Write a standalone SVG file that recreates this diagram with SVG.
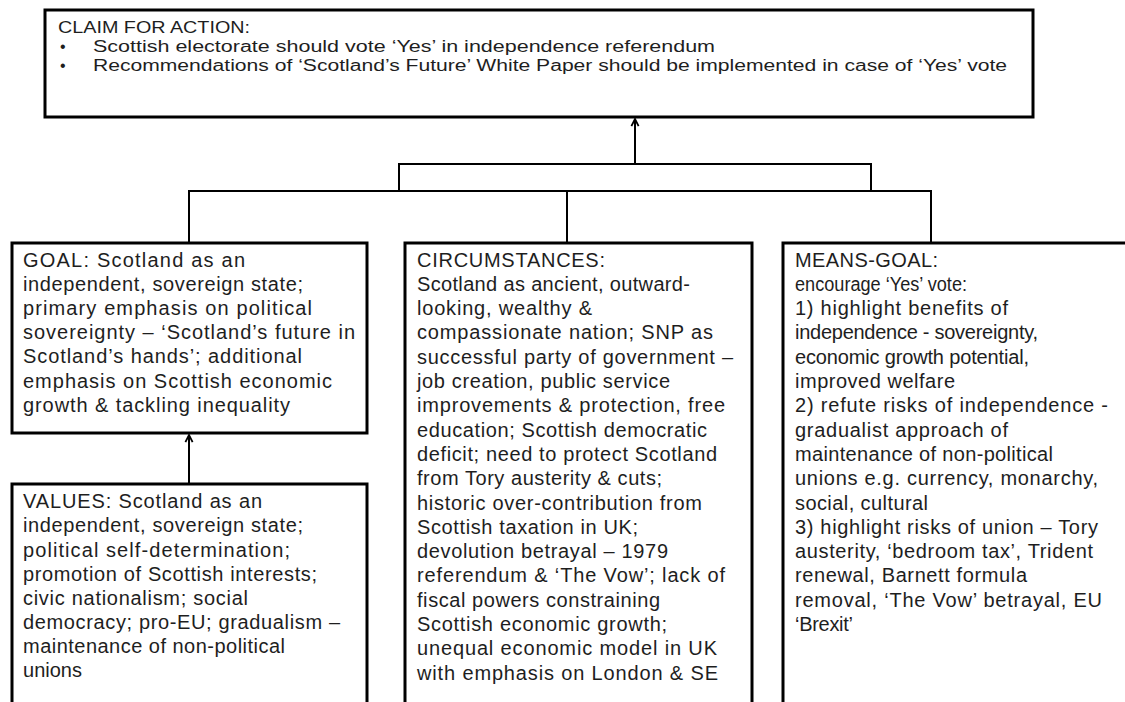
<svg xmlns="http://www.w3.org/2000/svg" width="1125" height="702" viewBox="0 0 1125 702">
<defs>
<style>
.box{fill:#fff;stroke:#000;stroke-width:3}
.con{fill:none;stroke:#000;stroke-width:2}
text{font-family:"Liberation Sans",Arial,sans-serif;font-size:20px;fill:#1e1e1e}
.top text{font-size:16px}
</style>
<marker id="arr" viewBox="0 0 10 10" refX="9" refY="5" markerWidth="9" markerHeight="10" markerUnits="userSpaceOnUse" orient="auto">
<path d="M1,1 L9,5 L1,9" fill="none" stroke="#000" stroke-width="2"/>
</marker>
</defs>
<rect width="1125" height="702" fill="#fff"/>
<g id="connectors">
<path class="con" d="M635,164 V119" marker-end="url(#arr)"/>
<path class="con" d="M399,191 V164 H871 V191"/>
<path class="con" d="M189,243 V191 H931 V243"/>
<path class="con" d="M567,191 V243"/>
<path class="con" d="M189,484 V435" marker-end="url(#arr)"/>
</g>
<g id="claim" class="top">
<rect class="box" x="45" y="10" width="988" height="107"/>
<text x="58" y="33" textLength="192" lengthAdjust="spacingAndGlyphs">CLAIM FOR ACTION:</text>
<text x="60" y="52">•</text>
<text x="93" y="52" textLength="622" lengthAdjust="spacingAndGlyphs">Scottish electorate should vote ‘Yes’ in independence referendum</text>
<text x="60" y="71">•</text>
<text x="93" y="71" textLength="914" lengthAdjust="spacingAndGlyphs">Recommendations of ‘Scotland’s Future’ White Paper should be implemented in case of ‘Yes’ vote</text>
</g>
<g id="goal">
<rect class="box" x="12" y="243" width="355" height="190"/>
<text x="23" y="266.5" textLength="222">GOAL: Scotland as an</text>
<text x="23" y="290.7" textLength="280">independent, sovereign state;</text>
<text x="23" y="314.9" textLength="289">primary emphasis on political</text>
<text x="23" y="339.1" textLength="332">sovereignty – ‘Scotland’s future in</text>
<text x="23" y="363.3" textLength="279">Scotland’s hands’; additional</text>
<text x="23" y="387.5" textLength="309">emphasis on Scottish economic</text>
<text x="23" y="411.7" textLength="267">growth &amp; tackling inequality</text>
</g>
<g id="values">
<rect class="box" x="12" y="484" width="355" height="240"/>
<text x="23" y="508.3" textLength="239">VALUES: Scotland as an</text>
<text x="23" y="532.4" textLength="280">independent, sovereign state;</text>
<text x="23" y="556.5" textLength="267">political self-determination;</text>
<text x="23" y="580.6" textLength="294">promotion of Scottish interests;</text>
<text x="23" y="604.7" textLength="225">civic nationalism; social</text>
<text x="23" y="628.8" textLength="317">democracy; pro-EU; gradualism –</text>
<text x="23" y="652.9" textLength="262">maintenance of non-political</text>
<text x="23" y="677" textLength="59">unions</text>
</g>
<g id="circumstances">
<rect class="box" x="405" y="243" width="347" height="480"/>
<text x="417" y="266.5" textLength="188">CIRCUMSTANCES:</text>
<text x="417" y="290.8" textLength="273">Scotland as ancient, outward-</text>
<text x="417" y="315.1" textLength="175">looking, wealthy &amp;</text>
<text x="417" y="339.4" textLength="296">compassionate nation; SNP as</text>
<text x="417" y="363.7" textLength="316">successful party of government –</text>
<text x="417" y="388" textLength="253">job creation, public service</text>
<text x="417" y="412.3" textLength="308">improvements &amp; protection, free</text>
<text x="417" y="436.6" textLength="290">education; Scottish democratic</text>
<text x="417" y="460.9" textLength="300">deficit; need to protect Scotland</text>
<text x="417" y="485.2" textLength="245">from Tory austerity &amp; cuts;</text>
<text x="417" y="509.5" textLength="285">historic over-contribution from</text>
<text x="417" y="533.8" textLength="221">Scottish taxation in UK;</text>
<text x="417" y="558.1" textLength="251">devolution betrayal – 1979</text>
<text x="417" y="582.4" textLength="308">referendum &amp; ‘The Vow’; lack of</text>
<text x="417" y="606.7" textLength="243">fiscal powers constraining</text>
<text x="417" y="631" textLength="250">Scottish economic growth;</text>
<text x="417" y="655.3" textLength="300">unequal economic model in UK</text>
<text x="417" y="679.6" textLength="301">with emphasis on London &amp; SE</text>
</g>
<g id="means-goal">
<rect class="box" x="783" y="243" width="360" height="480"/>
<text x="795" y="266.5" textLength="143">MEANS-GOAL:</text>
<text x="795" y="290.8" textLength="172" lengthAdjust="spacingAndGlyphs">encourage ‘Yes’ vote:</text>
<text x="795" y="315.1" textLength="213">1) highlight benefits of</text>
<text x="795" y="339.4" textLength="243">independence - sovereignty,</text>
<text x="795" y="363.7" textLength="234">economic growth potential,</text>
<text x="795" y="388" textLength="160">improved welfare</text>
<text x="795" y="412.3" textLength="313">2) refute risks of independence -</text>
<text x="795" y="436.6" textLength="213">gradualist approach of</text>
<text x="795" y="460.9" textLength="258">maintenance of non-political</text>
<text x="795" y="485.2" textLength="303">unions e.g. currency, monarchy,</text>
<text x="795" y="509.5" textLength="133">social, cultural</text>
<text x="795" y="533.8" textLength="303">3) highlight risks of union – Tory</text>
<text x="795" y="558.1" textLength="298">austerity, ‘bedroom tax’, Trident</text>
<text x="795" y="582.4" textLength="232">renewal, Barnett formula</text>
<text x="795" y="606.7" textLength="307">removal, ‘The Vow’ betrayal, EU</text>
<text x="795" y="631" textLength="58">‘Brexit’</text>
</g>
</svg>
